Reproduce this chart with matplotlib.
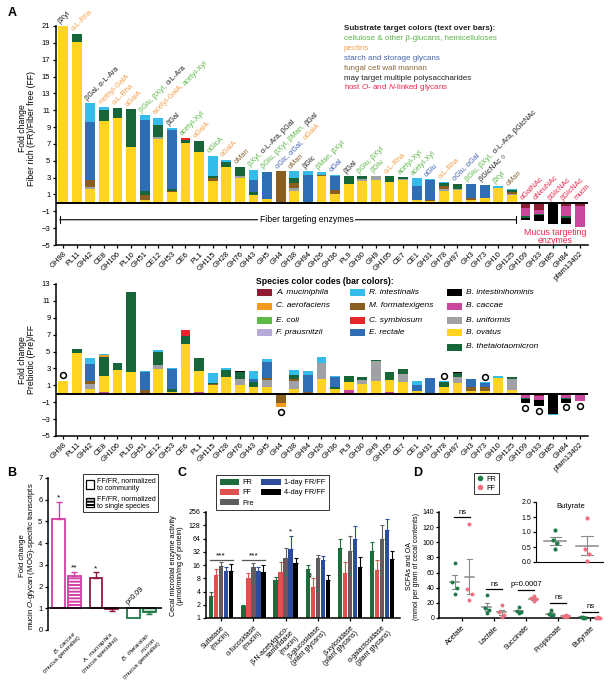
import numpy as np
import matplotlib
matplotlib.use('Agg')
import matplotlib.pyplot as plt
from matplotlib.patches import Patch, Rectangle
from matplotlib.lines import Line2D
from matplotlib.font_manager import FontProperties
from matplotlib.textpath import TextToPath

plt.rcParams['font.family'] = ['Liberation Sans', 'DejaVu Sans']
plt.rcParams['mathtext.fontset'] = 'custom'
plt.rcParams['mathtext.it'] = 'Liberation Sans:italic'
plt.rcParams['mathtext.rm'] = 'Liberation Sans'
plt.rcParams['mathtext.bf'] = 'Liberation Sans:bold'
plt.rcParams['hatch.linewidth'] = 1.4
plt.rcParams['xtick.major.size'] = 2.5
plt.rcParams['ytick.major.size'] = 2.5
plt.rcParams['xtick.major.width'] = 0.9
plt.rcParams['ytick.major.width'] = 0.9
plt.rcParams['axes.linewidth'] = 1.1

# ---------------- DATA: panel A ----------------
families = ['GH98', 'PL11', 'GH42', 'CE8', 'GH106', 'PL10', 'GH51', 'CE12', 'GH53', 'CE6',
            'PL1', 'GH115', 'GH28', 'GH76', 'GH43', 'GH5', 'GH4', 'GH38', 'GH94', 'GH26',
            'GH36', 'PL9', 'GH30', 'GH9', 'GH105', 'CE7', 'CE1', 'GH31', 'GH78', 'GH97',
            'GH3', 'GH73', 'GH10', 'GH125', 'GH109', 'GH33', 'GH85', 'GH84', 'pfam13402']

# Fiber rich / fiber free fold change, per species contribution
fr_ovatus = [21, 19.1, 1.6, 9.7, 10.1, 6.6, 0.4, 7.6, 1.3, 7.1,
             6.1, 2.6, 4.3, 2.9, 0.9, 0.5, 0, 1.45, 0, 3.2,
             1.1, 2.3, 2.57, 2.7, 2.5, 2.75, 0.3, 0.2, 1.4, 1.55,
             0.3, 0.6, 1.82, 0.9, 0, 0, 0, 0, 0]
fr_uniformis = [0, 0, 0.3, 0, 0, 0, 0, 0.2, 0, 0,
                0, 0, 0, 0.3, 0, 0, 0, 0.35, 0, 0,
                0, 0, 0.28, 0.55, 0, 0.1, 0, 0, 0.2, 0.15,
                0, 0, 0, 0.15, 0, 0, 0, 0, 0]
fr_formatexigens = [0, 0, 0.8, 0, 0, 0, 0.5, 0, 0.15, 0,
                    0, 0.4, 0, 0, 0, 0, 3.8, 0.6, 0, 0.1,
                    0.4, 0, 0, 0, 0, 0, 0, 0.2, 0.35, 0,
                    0.3, 0, 0, 0.25, 0, 0, 0, 0, 0]
fr_theta = [0, 1.0, 0, 1.35, 1.2, 4.5, 0.5, 1.5, 0.15, 0.4,
            1.3, 0.2, 0.6, 1.1, 0.4, 0, 0, 0.6, 0, 0,
            0, 0.9, 0.35, 0, 0.65, 0.2, 0, 0, 0.45, 0.6,
            0, 0, 0, 0.2, -0.15, -0.1, 0, -0.3, 0]
fr_rectale = [0, 0, 6.9, 0, 0, 0, 8.4, 0, 7.1, 0,
              0, 0, 0, 0, 1.4, 3.2, 0, 0, 3.3, 0,
              1.7, 0, 0, 0, 0, 0, 1.7, 2.3, 0, 0,
              1.65, 1.57, 0, 0, 0, 0, 0, 0, 0]
fr_symbiosum = [0, 0, 0, 0, 0, 0, 0, 0, 0, 0.2,
                0, 0, 0, 0, 0, 0, 0, 0, 0, 0,
                0, 0, 0, 0, 0, 0, 0, 0, 0, 0,
                0, 0, 0, 0, 0, 0, 0, 0, 0]
fr_intestinalis = [0, 0, 2.2, 0.3, 0, 0, 0.6, 0.8, 0.15, 0,
                   0, 2.4, 0.2, 0, 1.25, 0, 0, 0.75, 0.45, 0.35,
                   0.15, 0, 0, 0, 0, 0, 0.9, 0.1, 0.12, 0,
                   0, 0, 0.2, 0.16, 0, 0, -0.08, 0, -0.06]
fr_muciniphila = [0, 0, 0, 0, 0, 0, 0, 0, 0, 0,
                  0, 0, 0, 0, 0, 0, 0, 0, 0, 0,
                  0, 0, 0, 0, 0, 0, 0, 0, 0, 0,
                  0, 0, 0, 0, -0.6, -0.8, 0, -0.4, -0.4]
fr_caccae = [0, 0, 0, 0, 0, 0, 0, 0, 0, 0,
             0, 0, 0, 0, 0, 0, 0, 0, 0, 0,
             0, 0, 0, 0, 0, 0, 0, 0, 0, 0,
             0, 0, 0, 0, -1.0, -0.5, 0, -1.1, -2.45]
fr_intestinihominis = [0, 0, 0, 0, 0, 0, 0, 0, 0, 0,
                       0, 0, 0, 0, 0, 0, 0, 0, 0, 0,
                       0, 0, 0, 0, 0, 0, 0, 0, 0, 0,
                       0, 0, 0, 0, -0.3, -0.75, -2.45, -0.65, 0]

# Prebiotic / fiber free fold change
pre_ovatus = [1.53, 4.78, 0.55, 1.85, 2.8, 2.63, 0.15, 2.8, 0.1, 5.85,
              2.5, 1.0, 2.0, 1.05, 0.8, 0.8, 0, 0.6, 0, 1.76,
              0.6, 1.05, 1.14, 1.53, 1.45, 1.45, 0.3, 0.1, 0.78, 1.25,
              0.3, 0.3, 1.92, 0.47, 0, 0, 0, 0, 0]
pre_caccae = [0, 0, 0, 0.2, 0, 0, 0, 0.1, 0.15, 0,
              0.2, 0, 0, 0, 0, 0, 0, 0, 0, 0,
              0, 0.4, 0, 0, 0.2, 0, 0, 0, 0, 0,
              0, 0, 0, 0, -0.5, -0.4, 0, -0.5, -0.9]
pre_uniformis = [0, 0, 0.63, 0, 0, 0, 0, 0.45, 0, 0,
                 0, 0, 0, 0.75, 0, 0.85, 0, 0.9, 0, 1.84,
                 0, 0, 0.5, 2.35, 0, 0.9, 0, 0, 0, 0.7,
                 0, 0, 0, 1.25, 0, 0, 0, 0, 0]
pre_formatexigens = [0, 0, 0.31, 0, 0, 0, 0.3, 0, 0, 0,
                     0, 0.1, 0, 0, 0, 0.25, -1.1, 0.2, 0.2, 0,
                     0, 0, 0, 0, 0, 0, 0, 0, 0, 0,
                     0.5, 0.5, 0, 0, 0, 0, 0, 0, 0]
pre_aerofaciens = [0, 0, 0, 0.15, 0, 0, 0, 0, 0, 0,
                   0, 0, 0, 0, 0, 0, -0.5, 0, 0, 0,
                   0, 0, 0, 0, 0, 0, 0, 0, 0, 0,
                   0, 0, 0, 0, 0, 0, 0, 0, 0]
pre_theta = [0, 0.47, 0, 2.35, 0.9, 9.4, 0, 1.65, 0.3, 1.0,
             1.5, 0.2, 0.85, 0.75, 0.55, 0, 0, 0.55, 0, 0,
             0.25, 0.67, 0.32, 0.07, 0.95, 0.55, 0, 0, 0.59, 0.55,
             0, 0, 0, 0.32, -0.1, 0, 0, -0.1, 0]
pre_rectale = [0, 0, 2.04, 0, 0, 0, 2.15, 0, 2.35, 0,
               0, 0, 0, 0, 0.4, 1.9, 0, 0, 2.05, 0,
               1.1, 0, 0, 0, 0, 0, 0.7, 1.82, 0, 0,
               0.96, 0.45, 0, 0, 0, 0, 0, 0, 0]
pre_symbiosum = [0, 0, 0, 0, 0, 0, 0, 0, 0, 0.75,
                 0, 0, 0, 0, 0, 0, 0, 0, 0, 0,
                 0, 0, 0, 0, 0, 0, 0, 0, 0, 0,
                 0, 0, 0, 0, 0, 0, 0, 0, 0]
pre_intestinalis = [0, 0, 0.67, 0.12, 0, 0, 0.15, 0.2, 0.15, 0,
                    0, 1.15, 0.15, 0, 0.9, 0.3, 0, 0.55, 0.4, 0.7,
                    0.1, 0, 0, 0, 0, 0, 0.5, 0, 0.1, 0,
                    0, 0.1, 0.18, 0, 0, 0, -0.1, 0, 0]
pre_muciniphila = [0, 0, 0, 0, 0, 0, 0, 0, 0, 0,
                   0, 0, 0, 0, 0, 0, 0, 0, 0, 0,
                   0, 0, 0, 0, 0, 0, 0, 0, 0, 0,
                   0, 0, 0, 0, 0, -0.3, 0, 0, 0]
pre_intestinihominis = [0, 0, 0, 0, 0, 0, 0, 0, 0, 0,
                        0, 0, 0, 0.15, 0, 0, 0, 0, 0, 0,
                        0, 0, 0, 0, 0, 0, 0, 0, 0, 0.05,
                        0, 0, 0, 0, -0.55, -0.8, -2.4, -0.5, 0]
pre_circle_families = ['GH98', 'GH4', 'GH78', 'GH73', 'GH109', 'GH33', 'GH84', 'pfam13402']

species_names = ['A. muciniphila', 'C. aerofaciens', 'E. coli', 'F. prausnitzii',
                 'R. intestinalis', 'M. formatexigens', 'C. symbiosum', 'E. rectale',
                 'B. intestinihominis', 'B. caccae', 'B. uniformis', 'B. ovatus',
                 'B. thetaiotaomicron']
species_colors = ['#8C1D33', '#F39A1E', '#5FB946', '#B7A9D8',
                  '#35BCEB', '#8A5E1F', '#E6262B', '#2F6DB5',
                  '#000000', '#C9489E', '#9FA1A4', '#FED420',
                  '#17663A']

# substrate labels over bars (text, substrate class)
GRN, ORG, BLU, BRN, BLK, RED = '#5DB54A', '#F4A04A', '#4563B0', '#8B6A3A', '#222222', '#E8294F'
bar_labels = [
    [('βXyl', BLK)], [('α-L-Rha', ORG)], [('βGal, α-L-Ara', BLK)], [('methyl-GalA', ORG)],
    [('α-L-Rha', ORG)], [('αGalA', ORG)], [('βGlu, βXyl, ', GRN), ('α-L-Ara', BLK)],
    [('acetyl-GalA, ', ORG), ('acetyl-Xyl', GRN)], [('βGal', BLK)], [('acetyl-Xyl', GRN)],
    [('αGalA', ORG)], [('αGlcA', GRN)], [('αGalA', ORG)], [('αMan', BRN)],
    [('βXyl, ', GRN), ('α-L-Ara, βGal', BLK)], [('βGlu, βXyl, βMan, ', GRN), ('βGal', BLK)],
    [('αGlc, αGal, ', BLU), ('αGalA', ORG)], [('αMan', BRN)], [('βGlc', BLK)],
    [('βMan, βXyl', GRN)], [('αGal', BLU)], [('βGal', BLK)], [('βGlu, βXyl', GRN)],
    [('βGlu', GRN)], [('α-L-Rha', ORG)], [('acetyl-Xyl', GRN)], [('acetyl-Xyl', GRN)],
    [('αGlu', BLU)], [('α-L-Rha', ORG)], [('αGlu, αGal', BLU)],
    [('βGlu, βXyl, ', GRN), ('α-L-Ara, βGlcNAc', BLK)], [('βGlcNAc ○', BLK)],
    [('βXyl', GRN)], [('αMan', BRN)], [('αGalNAc', RED)], [('αNeuNAc', RED)],
    [('βGlcNAc', RED)], [('βGlcNAc', RED)], [('mucin', RED)]]

# ---------------- DATA: panel B ----------------
b_species = ['$\\mathit{B.\\ caccae}$\n(mucus generalist)',
             '$\\mathit{A.\\ muciniphila}$\n(mucus specialist)',
             '$\\mathit{B.\\ thetaiotao}$-\n$\\mathit{micron}$\n(mucus generalist)']
b_community = [5.1, 2.4, 0.55]
b_community_err = [0.8, 0.25, 0.0]
b_single = [2.5, 0.97, 0.85]
b_single_err = [0.17, 0.08, 0.1]
b_community_sig = ['*', '*', 'p=0.09']
b_single_sig = ['**', '', '']
b_colors = ['#D23FA5', '#8E1B3F', '#1E7A45']

# ---------------- DATA: panel C ----------------
c_enzymes = ['Sulfatase\n(mucin)', 'α-fucosidase\n(mucin)',
             'β-N-acetylgluco-\nsaminidase\n(mucin)', 'β-glucosidase\n(plant glycans)',
             'β-xylosidase\n(plant glycans)', 'α-galactosidase\n(plant glycans)']
c_FR = [3.1, 1.84, 7.2, 13.2, 38, 33]
c_FR_err = [0.8, 0.17, 1.3, 3, 23, 19]
c_FF = [9.6, 8.2, 10.9, 5.1, 10.7, 12.3]
c_FF_err = [3.2, 2.5, 8, 3, 8, 9]
c_Pre = [15.2, 14.2, 23.5, 23.5, 34, 61]
c_Pre_err = [3.5, 3.6, 15, 3.5, 40, 69]
c_1day = [11.7, 11.9, 36, 20.8, 64, 98]
c_1day_err = [2.7, 2.3, 37, 5, 61, 79]
c_4day = [11.9, 11.1, 18, 7.3, 14.7, 22]
c_4day_err = [4.6, 4.6, 5.5, 2, 10, 12]
c_series = ['FR', 'FF', 'Pre', '1-day FR/FF', '4-day FR/FF']
c_colors = ['#1E6B3C', '#E0504F', '#5E5E5E', '#2E4C9E', '#000000']

# ---------------- DATA: panel D ----------------
d_acids = ['Acetate', 'Lactate', 'Succinate', 'Propionate', 'Butyrate']
fr_acetate = [72, 47, 40, 31.5]
ff_acetate = [124.7, 38.5, 31.5, 24]
fr_lactate = [30, 13, 10, 7]
ff_lactate = [17.5, 7.4, 4.4, 1.3]
fr_succinate = [14, 8.75, 7.4, 6.6]
ff_succinate = [28.4, 26.2, 24.5, 21.9]
fr_propionate = [10, 5.7, 4.4, 3.5]
ff_propionate = [4.4, 3.1, 2.2, 1.3]
fr_butyrate = [1.08, 0.72, 0.62, 0.42]
ff_butyrate = [1.48, 0.42, 0.28, 0.02]
d_sig = ['ns', 'ns', 'p=0.0007', 'ns', 'ns']
d_sig_level = [133, 38, 37, 20, 8.5]
d_colors = ['#1C7C48', '#EF6F7E']

# ---------------- FIGURE ----------------
W, H = 612, 681
fig = plt.figure(figsize=(W / 100, H / 100), dpi=100)


def box(l, t, r, b):
    return [l / W, 1 - b / H, (r - l) / W, (b - t) / H]


def fx(x):
    return x / W


def fy(y):
    return 1 - y / H


color_of = dict(zip(species_names, species_colors))
top_data = {'A. muciniphila': fr_muciniphila, 'B. caccae': fr_caccae, 'B. uniformis': fr_uniformis,
            'M. formatexigens': fr_formatexigens, 'B. thetaiotaomicron': fr_theta,
            'E. rectale': fr_rectale, 'C. symbiosum': fr_symbiosum, 'R. intestinalis': fr_intestinalis,
            'B. intestinihominis': fr_intestinihominis, 'B. ovatus': fr_ovatus}
bot_data = {'A. muciniphila': pre_muciniphila, 'B. caccae': pre_caccae, 'B. uniformis': pre_uniformis,
            'M. formatexigens': pre_formatexigens, 'C. aerofaciens': pre_aerofaciens,
            'B. thetaiotaomicron': pre_theta, 'E. rectale': pre_rectale, 'C. symbiosum': pre_symbiosum,
            'R. intestinalis': pre_intestinalis, 'B. intestinihominis': pre_intestinihominis,
            'B. ovatus': pre_ovatus}
for d in (top_data, bot_data):
    for k, v in d.items():
        assert len(v) == len(families), k

pos_order = ['B. caccae', 'B. ovatus', 'B. uniformis', 'M. formatexigens', 'B. thetaiotaomicron',
             'C. aerofaciens', 'E. rectale', 'C. symbiosum', 'R. intestinalis', 'B. intestinihominis']
neg_order = ['A. muciniphila', 'B. caccae', 'M. formatexigens', 'C. aerofaciens',
             'B. thetaiotaomicron', 'B. intestinihominis', 'R. intestinalis']

nfam = len(families)
xf = np.arange(nfam)


def stacked(ax, data):
    pb = np.zeros(nfam)
    nb = np.zeros(nfam)
    for sp in pos_order:
        if sp not in data:
            continue
        v = np.array(data[sp], float)
        h = np.where(v > 0, v, 0)
        ax.bar(xf, h, bottom=pb, width=0.72, color=color_of[sp], linewidth=0, zorder=2)
        pb += h
    for sp in neg_order:
        if sp not in data:
            continue
        v = np.array(data[sp], float)
        h = np.where(v < 0, v, 0)
        ax.bar(xf, h, bottom=nb, width=0.72, color=color_of[sp], linewidth=0, zorder=2)
        nb += h
    return pb, nb


def style_A(ax, ylo, yhi):
    ax.set_xlim(-0.52, 38.6)
    ax.set_ylim(ylo, yhi)
    ax.set_yticks(np.arange(ylo, yhi + 1, 2))
    ax.tick_params(axis='y', labelsize=5.5, pad=1.5)
    ax.set_xticks(xf)
    ax.set_xticklabels(families, rotation=45, ha='right', rotation_mode='anchor', fontsize=5.5)
    ax.tick_params(axis='x', pad=1.5)
    for s in ('top', 'right'):
        ax.spines[s].set_visible(False)
    ax.axhline(0, color='k', lw=1.4, zorder=3)


# ---- Panel A top ----
ax1 = fig.add_axes(box(56, 26, 588, 245))
top_pos, top_neg = stacked(ax1, top_data)
style_A(ax1, -5, 21)

t2p = TextToPath()
lab_fp = FontProperties(family=['Liberation Sans', 'DejaVu Sans'], size=5.3)


def tw(s):
    return t2p.get_text_width_height_descent(s + 'x', lab_fp, ismath=False)[0] - \
        t2p.get_text_width_height_descent('x', lab_fp, ismath=False)[0]


c45 = np.cos(np.pi / 4)
for i, segs in enumerate(bar_labels):
    top = max(top_pos[i], 0)
    cum = 0.0
    for s, col in segs:
        ax1.annotate(s, xy=(i, top), xytext=(-2.2 + cum * c45, 2.0 + cum * c45),
                     textcoords='offset points', rotation=45, rotation_mode='anchor',
                     ha='left', va='baseline', color=col, fontproperties=lab_fp,
                     annotation_clip=False)
        cum += tw(s)

ax1.annotate('', xy=(-0.25, -2), xytext=(33.3, -2),
             arrowprops=dict(arrowstyle='|-|, widthA=0.25, widthB=0.25', color='k', lw=0.8,
                             shrinkA=0, shrinkB=0))
ax1.text(17.9, -2, 'Fiber targeting enzymes', ha='center', va='center', fontsize=6.2,
         bbox=dict(fc='white', ec='none', pad=1.2), zorder=4)
ax1.text(36.2, -4.0, 'Mucus targeting\nenzymes', ha='center', va='center', color=RED,
         fontsize=6.3, linespacing=0.95)

fig.text(fx(27), fy(128), 'Fold change\nFiber rich (FR)/Fiber free (FF)', rotation=90,
         ha='center', va='center', fontsize=6.2, linespacing=1.1)

# substrate color legend
subs = [('Substrate target colors (text over bars):', BLK, 'bold'),
        ('cellulose & other β-glucans, hemicelluloses', GRN, 'normal'),
        ('pectins', ORG, 'normal'),
        ('starch and storage glycans', BLU, 'normal'),
        ('fungal cell wall mannan', BRN, 'normal'),
        ('may target multiple polysaccharides', BLK, 'normal'),
        ('host $\\mathit{O}$- and $\\mathit{N}$-linked glycans', RED, 'normal')]
for k, (s, col, wt) in enumerate(subs):
    fig.text(fx(344), fy(29 + 9.8 * k), s, color=col, fontweight=wt, fontsize=5.8,
             ha='left', va='center')

# ---- Panel A bottom ----
ax2 = fig.add_axes(box(56, 284, 588, 436))
bot_pos, bot_neg = stacked(ax2, bot_data)
style_A(ax2, -5, 13)
ci = [families.index(f) for f in pre_circle_families]
cy = [bot_pos[i] + 0.65 if bot_pos[i] > 0 else bot_neg[i] - 0.5 for i in ci]
ax2.plot(ci, cy, 'o', ms=4.2, mfc='white', mec='k', mew=1.1, ls='none', zorder=5, clip_on=False)
fig.text(fx(27), fy(360), 'Fold change\nPrebiotic (Pre)/FF', rotation=90,
         ha='center', va='center', fontsize=6.2, linespacing=1.1)

# species legend
fig.text(fx(256), fy(282), 'Species color codes (bar colors):', fontweight='bold', fontsize=6.2,
         ha='left', va='center')
col_x = [257, 350, 447]
row_y = [293, 306, 320, 333, 347]
slots = [(0, 0), (0, 1), (0, 2), (0, 3), (1, 0), (1, 1), (1, 2), (1, 3),
         (2, 0), (2, 1), (2, 2), (2, 3), (2, 4)]
for name, (c, r) in zip(species_names, slots):
    x0, y0 = col_x[c], row_y[r]
    fig.patches.append(Rectangle((fx(x0), fy(y0 + 3.5)), 15 / W, 7 / H, transform=fig.transFigure,
                                 facecolor=color_of[name], edgecolor='none'))
    fig.text(fx(x0 + 19), fy(y0), name, fontstyle='italic', fontsize=6.0, ha='left', va='center')

# ---------------- Panel B ----------------
axB = fig.add_axes(box(48, 478, 162, 630))
gB = np.arange(len(b_species))
offB = 0.21
for j in range(len(b_species)):
    col = b_colors[j]
    for xo, val, err, hatch, sig in ((gB[j] - offB, b_community[j], b_community_err[j], None, b_community_sig[j]),
                                    (gB[j] + offB, b_single[j], b_single_err[j], '-----', b_single_sig[j])):
        axB.bar(xo, val - 1, bottom=1, width=0.34, facecolor='white', edgecolor=col, lw=1.3,
                hatch=hatch, zorder=2)
        if err > 0:
            if val >= 1:
                axB.errorbar(xo, val, yerr=[[0], [err]], fmt='none', ecolor=col, elinewidth=1.0,
                             capsize=2, capthick=1.0, zorder=3)
            else:
                axB.errorbar(xo, val, yerr=[[err], [0]], fmt='none', ecolor=col, elinewidth=1.0,
                             capsize=2, capthick=1.0, zorder=3)
        if sig.startswith('p'):
            axB.text(xo - 0.1, 1.12, sig, rotation=45, fontsize=5.2, ha='left', va='bottom',
                     rotation_mode='anchor')
        elif sig:
            axB.text(xo, max(val, 1) + err + 0.02, sig, fontsize=6, ha='center', va='bottom')
axB.axhline(1, color='k', lw=1.2, zorder=4)
axB.set_xlim(-0.49, 2.55)
axB.set_ylim(0, 7)
axB.set_yticks(range(0, 8))
axB.tick_params(axis='y', labelsize=5.5, pad=1.5)
axB.set_xticks(gB + 0.15)
axB.set_xticklabels(b_species, rotation=45, ha='right', rotation_mode='anchor', fontsize=4.3,
                    linespacing=0.95)
axB.tick_params(axis='x', length=0, pad=0)
for s in ('top', 'right', 'bottom'):
    axB.spines[s].set_visible(False)
fig.text(fx(28), fy(556), 'Fold change\nmucin $\\mathit{O}$-glycan (MOG)-specific transcripts',
         rotation=90, ha='center', va='center', fontsize=5.6, linespacing=1.1)
legB = fig.legend(handles=[Patch(facecolor='white', edgecolor='k', lw=0.9),
                           Patch(facecolor='white', edgecolor='k', lw=0.9, hatch='-----')],
                  labels=['FF/FR, normalized\nto community', 'FF/FR, normalized\nto single species'],
                  loc='upper left', bbox_to_anchor=(fx(83), fy(474)), fontsize=5, frameon=True,
                  fancybox=False, handlelength=1.2, handleheight=1.5, borderpad=0.4,
                  labelspacing=0.4, handletextpad=0.4, borderaxespad=0)
legB.get_frame().set_edgecolor('k')
legB.get_frame().set_linewidth(0.7)

# ---------------- Panel C ----------------
axC = fig.add_axes(box(206, 512, 400, 618))
gC = np.arange(len(c_enzymes))
c_vals = [c_FR, c_FF, c_Pre, c_1day, c_4day]
c_errs = [c_FR_err, c_FF_err, c_Pre_err, c_1day_err, c_4day_err]
offsC = (np.arange(5) - 2) * 0.155
for k in range(5):
    v = np.array(c_vals[k], float)
    e = np.array(c_errs[k], float)
    axC.bar(gC + offsC[k], v - 1, bottom=1, width=0.135, color=c_colors[k], lw=0, zorder=2,
            label=c_series[k])
    axC.errorbar(gC + offsC[k], v, yerr=[np.zeros_like(e), e], fmt='none', ecolor=c_colors[k],
                 elinewidth=0.8, capsize=1.3, capthick=0.8, zorder=3)
axC.set_yscale('log', base=2)
axC.set_ylim(1, 256)
yt = [1, 2, 4, 8, 16, 32, 64, 128, 256]
axC.set_yticks(yt)
axC.set_yticklabels([str(t) for t in yt])
axC.minorticks_off()
axC.tick_params(axis='y', labelsize=5.0, pad=1.5)
axC.set_xlim(-0.47, 5.55)
axC.set_xticks(gC)
axC.set_xticklabels(c_enzymes, rotation=45, ha='right', rotation_mode='anchor', fontsize=5,
                    linespacing=1.0)
axC.tick_params(axis='x', pad=2)
for s in ('top', 'right'):
    axC.spines[s].set_visible(False)
for g in (0, 1):
    axC.plot([g - 0.36, g + 0.36], [21, 21], color='#555555', lw=0.9)
    axC.text(g, 21.5, '***', ha='center', va='bottom', fontsize=6)
axC.text(2 + offsC[3], 36 + 37 + 3, '*', ha='center', va='bottom', fontsize=6)
axC.text(3 + offsC[1], 5.1 + 3 + 0.3, '**', ha='center', va='bottom', fontsize=6, rotation=90)
fig.text(fx(177), fy(566), 'Cecal microbial enzyme activity\n(μmol/min/mg of protein)',
         rotation=90, ha='center', va='center', fontsize=5.2, linespacing=1.1)
hC, lC = axC.get_legend_handles_labels()
legC = fig.legend(hC, lC, loc='upper left', bbox_to_anchor=(fx(216), fy(475)), ncol=2,
                  fontsize=5.3, frameon=True, fancybox=False, handlelength=2.6, handleheight=0.9,
                  borderpad=0.5, labelspacing=0.35, columnspacing=1.0, handletextpad=0.5,
                  borderaxespad=0)
legC.get_frame().set_edgecolor('k')
legC.get_frame().set_linewidth(0.7)

# ---------------- Panel D ----------------
axD = fig.add_axes(box(439, 512, 600, 618))
gD = np.arange(len(d_acids))
fr_sets = [fr_acetate, fr_lactate, fr_succinate, fr_propionate, fr_butyrate]
ff_sets = [ff_acetate, ff_lactate, ff_succinate, ff_propionate, ff_butyrate]
jit = np.array([0.0, -0.07, 0.07, 0.0])


def dot_group(ax, xc, vals, col, mw=0.2, ms=3.2):
    v = np.array(vals, float)
    m = v.mean()
    se = v.std(ddof=1) / np.sqrt(len(v))
    ax.plot(xc + jit, v, 'o', color=col, ms=ms, mew=0, zorder=3, clip_on=False)
    ax.plot([xc - mw, xc + mw], [m, m], color='#8A8A8A', lw=1.1, zorder=2)
    ax.plot([xc, xc], [m - se, m + se], color='#8A8A8A', lw=0.8, zorder=2)
    for yy in (m - se, m + se):
        ax.plot([xc - mw * 0.5, xc + mw * 0.5], [yy, yy], color='#8A8A8A', lw=0.8, zorder=2)


for j in range(len(d_acids)):
    dot_group(axD, gD[j] - 0.23, fr_sets[j], d_colors[0], mw=0.14, ms=2.8)
    dot_group(axD, gD[j] + 0.23, ff_sets[j], d_colors[1], mw=0.14, ms=2.8)
    axD.plot([gD[j] - 0.25, gD[j] + 0.25], [d_sig_level[j]] * 2, color='k', lw=0.9)
    axD.text(gD[j], d_sig_level[j] + 2, d_sig[j], ha='center', va='bottom', fontsize=5.5)
axD.set_xlim(-0.72, 4.3)
axD.set_ylim(0, 140)
axD.set_yticks(np.arange(0, 141, 20))
axD.tick_params(axis='y', labelsize=5.0, pad=1.2, length=2)
axD.set_xticks(gD)
axD.set_xticklabels(d_acids, rotation=45, ha='right', rotation_mode='anchor', fontsize=5.3)
axD.tick_params(axis='x', pad=2)
for s in ('top', 'right'):
    axD.spines[s].set_visible(False)
fig.text(fx(413), fy(566), 'SCFAs and OA\n(mmol per gram of cecal contents)', rotation=90,
         ha='center', va='center', fontsize=5.0, linespacing=1.1)
legD = fig.legend(handles=[Line2D([], [], marker='o', color=d_colors[0], ls='none', ms=3),
                           Line2D([], [], marker='o', color=d_colors[1], ls='none', ms=3)],
                  labels=['FR', 'FF'], loc='upper left', bbox_to_anchor=(fx(474), fy(473)),
                  fontsize=5.3, frameon=True, fancybox=False, handlelength=0.8,
                  handletextpad=0.5, borderpad=0.35, labelspacing=0.25, borderaxespad=0)
legD.get_frame().set_edgecolor('k')
legD.get_frame().set_linewidth(0.7)

# inset: butyrate
axI = fig.add_axes(box(536, 502, 603, 562))
dot_group(axI, 0, fr_butyrate, d_colors[0], mw=0.35, ms=3.0)
dot_group(axI, 1, ff_butyrate, d_colors[1], mw=0.35, ms=3.0)
axI.set_xlim(-0.6, 1.5)
axI.set_ylim(0, 2.0)
axI.set_yticks([0, 0.5, 1.0, 1.5, 2.0])
axI.set_yticklabels(['0.0', '0.5', '1.0', '1.5', '2.0'])
axI.tick_params(axis='y', labelsize=5, pad=1.5, length=2)
axI.set_xticks([])
for s in ('top', 'right'):
    axI.spines[s].set_visible(False)
axI.spines['left'].set_linewidth(0.8)
axI.spines['bottom'].set_linewidth(0.8)
axI.text(0.5, 1.85, 'Butyrate', ha='center', va='center', fontsize=5.5)

# panel letters
for L, (px_, py_) in zip('ABCD', [(12, 13), (12, 473), (182, 473), (418, 473)]):
    fig.text(fx(px_), fy(py_), L, fontsize=9, fontweight='bold', ha='center', va='center')

fig.savefig('out.png', dpi=100)
